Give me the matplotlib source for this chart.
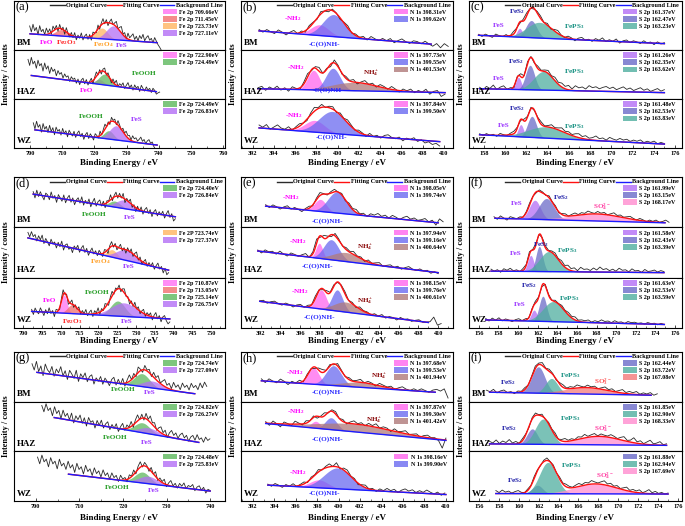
import numpy as np
import matplotlib
matplotlib.use("Agg")
import matplotlib.pyplot as plt
from matplotlib.patches import Patch

plt.rcParams["font.family"] = ["Liberation Serif", "DejaVu Serif"]
plt.rcParams["font.weight"] = "bold"
plt.rcParams["mathtext.default"] = "regular"

# ---------------- data (energies in eV, intensities normalised per sub-plot) ----------------
# each panel: rows BM, HAZ, WZ
# span = range of the measured curve, bg = (x0, x1, y0, y1) of the linear background
# residuals of the measured curve around the fit, in 1/100

a_span = [(702.0, 741.5), (701.5, 741.0), (701.0, 740.0)]
a_bg = [(702.1, 740.2, 0.33, 0.15), (702.5, 740.0, 0.48, 0.15), (701.5, 739.5, 0.37, 0.06)]
a_centers = [[709.66, 711.45, 723.73, 727.11], [722.90, 724.49], [724.49, 726.83]]
a_heights = [[0.05, 0.13, 0.22, 0.28], [0.10, 0.22], [0.17, 0.29]]
a_widths = [[3.0, 4.0, 4.0, 5.0], [3.0, 4.0], [3.5, 5.0]]
a_species = [["FeO", "Fe2O3", "Fe3O4", "FeS"], ["FeO", "FeOOH"], ["FeOOH", "FeS"]]
a_res_bm = [16, 4, 20, 7, 14, -1, 18, 6, 11, 0, 13, 3, 9, -4, 10, 1, 7, -6, 8, -2, 5, -7, 9, 0, -5, 6, -3, 8, -6, 4,
            -2, 9, -5, 3, 7, -4, 5, -8, 6, 1, -3, 8, -5, 4, 10, -2, 6, -6, 3, 9, -1, 5, 11, 0, 7, 13, 2, 8, -2, 12,
            4, 9, 14, 3, 10, 1, 12, 6, 15, 2, 9, 13, 4, 8, -1, 10, 3, -4, -9, -15]
a_res_haz = [32, 20, 37, 24, 30, 16, 33, 22, 27, 12, 29, 17, 24, 9, 22, 14, 19, 6, 17, 10, 14, 3, 12, 6, 9, -2, 8, 3,
             6, -4, 5, -6, 4, 8, -3, 6, -5, 2, 7, -7, 3, 9, -2, 5, -6, 4, 8, -3, 6, 1, -5, 7, 2, 10, -1, 6, 3, 9, -2,
             5, 11, 1, 7, -3, 8, 2, 6, -4, 9, 3, -2, 7, 1, 5, -3, 6, 2, -5, -2, 0]
a_res_wz = [14, 2, 18, 6, 12, -3, 15, 4, 10, -2, 13, 1, 9, -5, 11, 3, 7, -4, 10, 0, 6, -6, 8, 2, -3, 7, -5, 4, 9, -2,
            5, -7, 3, 8, -4, 6, 1, -6, 7, 3, -3, 9, -2, 5, 10, -1, 4, -5, 8, 2, 6, -3, 9, 4, -1, 7, 2, 10, 5, 8,
            1, 11, 6, 9, 3, 7, 12, 4, 8, 0, 6, 9, 2, 5, -4, -9, -16, -22]

b_span = [(392.6, 410.4), (392.5, 410.1), (392.6, 409.6)]
b_bg = [(392.6, 408.8, 0.39, 0.12), (392.5, 410.1, 0.21, 0.13), (392.6, 409.6, 0.41, 0.13)]
b_centers = [[398.31, 399.62], [397.73, 399.55, 401.53], [397.84, 399.50]]
b_heights = [[0.22, 0.45], [0.40, 0.45, 0.17], [0.24, 0.45]]
b_widths = [[2.0, 2.4], [1.3, 1.6, 5.0], [2.2, 3.0]]
b_species = [["NH2", "CONH"], ["NH2", "CONH", "NH4"], ["NH2", "CONH"]]
b_res_bm = [3, -2, 4, 0, -3, 5, 1, -4, 2, 6, -1, 3, -3, 4, 2, -2, 5, 0, -4, 3, 1, -3, 2, 5, -1,
            3, 0, 4, -2, 6, 2, -1, 4, 0, 5, -3, 2, 6, 1, -2, 4, 3, -1, 5, 0, -4, 2, -6, 3, -2]
b_res_haz = [2, 5, -3, 4, 0, 6, -2, 3, -4, 5, 1, -3, 4, 7, -2, 3, 8, -1, 2, -5, 6, 3, -2, 4, 1,
             5, -3, 2, 6, 0, 4, -2, 5, 3, -1, 6, 2, -3, 4, 1, 5, -2, 3, 0, 6, -4, 2, 4, -8, -3]
b_res_wz = [6, 2, 8, -1, 4, 9, 3, 1, 6, -2, 3, 5, 0, -3, 4, 8, 2, 6, -1, 3, 5, -2, 4, 1, 6,
            3, -1, 4, 2, -3, 5, 0, 3, -2, 4, 6, 1, -1, 3, -4, 2, 0, 4, -3, 1, -5, -2, -7, -4, -9]

c_span = [(157.5, 175.0), (157.6, 175.0), (157.6, 175.0)]
c_bg = [(157.5, 175.0, 0.30, 0.13), (157.6, 175.0, 0.21, 0.13), (157.6, 175.0, 0.27, 0.08)]
c_centers = [[161.37, 162.47, 163.23], [161.26, 162.35, 163.62], [161.48, 162.53, 163.83]]
c_heights = [[0.18, 0.35, 0.32], [0.25, 0.50, 0.38], [0.25, 0.43, 0.23]]
c_widths = [[0.6, 1.2, 2.8], [0.6, 1.0, 2.2], [0.6, 1.0, 4.0]]
c_species = [["FeS", "FeS2", "FePS3"], ["FeS", "FeS2", "FePS3"], ["FeS", "FeS2", "FePS3"]]
c_res_bm = [2, -2, 3, 0, -3, 4, 1, -1, 3, -2, 5, 2, -3, 4, 6, 1, -2, 3, 5, 0, 4, -2, 3, 6, 1, -1, 4, 2,
            -3, 3, 5, 0, 2, -2, 4, 1, 6, -1, 3, 0, 5, -3, 2, 4, -1, 3, 1, -2, 4, 0, 2, -3, 3, -1, 2]
c_res_haz = [3, -2, 5, 1, 8, -1, 4, 7, 0, 3, -3, 2, 6, -1, 4, 2, -2, 5, 1, 3, 6, 2, 7, 4, 8, 5, 9, 3,
             10, 6, 8, 4, 11, 7, 9, 5, 8, 10, 6, 9, 4, 7, 10, 5, 8, 3, 6, 9, 4, 7, 2, 5, 8, 3, 6]
c_res_wz = [2, -1, 3, 0, 2, -2, 4, 1, -1, 3, 5, 2, -2, 4, 1, 3, -1, 2, 5, 1, 3, 6, 2, 4, 7, 3, 5, 2,
            6, 8, 4, 7, 3, 5, 9, 4, 6, 2, 8, 5, 3, 7, 4, 6, 2, 5, 3, 6, 1, 4, 2, 5, 0, 3, 1]

d_span = [(702.7, 740.5), (701.3, 738.7), (702.2, 739.0)]
d_bg = [(702.7, 740.5, 0.66, 0.21), (701.3, 738.7, 0.79, 0.15), (702.2, 739.0, 0.33, 0.18)]
d_centers = [[724.40, 726.84], [723.74, 727.37], [710.87, 713.05, 725.14, 726.75]]
d_heights = [[0.12, 0.17], [0.15, 0.21], [0.36, 0.18, 0.30, 0.27]]
d_widths = [[3.5, 5.0], [3.0, 6.0], [1.8, 3.0, 4.5, 8.0]]
d_species = [["FeOOH", "FeS"], ["Fe3O4", "FeS"], ["FeO", "Fe2O3", "FeOOH", "FeS"]]
d_res_bm = [5, -7, 9, -3, 7, -1, -8, 6, 3, -6, 10, -2, 4, -9, 7, 1, -5, 8, -7, 3, 9, -4, 5, -8, 2, 7, -3, 10, -6, 4,
            -2, 8, -7, 3, 11, -4, 5, 9, -3, 6, -8, 4, 1, 10, -5, 3, 8, -4, 6, -2, 9, -7, 4, 0, 8, -5, 3, -8, 5, -3,
            7, -6, 4, 9, -2, 6, -7, 3, 8, -4, 5, -1, 7, -6, 3, 10, -3, 5, -9, -4]
d_res_haz = [11, 3, 14, 5, 10, -2, 9, 2, 12, -4, 7, 1, -6, 8, 0, 4, -7, 5, -3, 9, -8, 3, 6, -4, 1, -9, 5, 0, 8, -5,
             4, 10, -3, 6, -7, 2, 9, -2, 5, -4, 7, 1, -6, 6, 2, -8, 4, 9, -3, 5, -6, 1, 8, -4, 3, -7, 5, -2, 7, -5,
             4, 10, -3, 6, -6, 2, 8, -4, 5, -1, 7, -5, 3, 9, -2, 4, -8, 2, -10, -5]
d_res_wz = [4, -6, 7, 0, -4, 8, 1, -7, 5, -3, 9, -2, 4, -8, 6, 2, -4, 5, 10, -3, 4, -7, 1, 8, -5, 3, -2, 7, -4, 5,
            0, 9, -3, 4, 8, -5, 6, 1, 10, -4, 5, -2, 8, 2, -6, 4, 9, -3, 5, 0, 7, -5, 4, 8, -2, 3, -7, 4, -3, 9,
            -1, 6, -5, 3, 8, -4, 5, 1, 7, -6, 4, 10, -2, 5, -7, 3, 6, -4, -10, -6]

e_span = [(392.5, 410.5), (391.7, 410.0), (391.9, 410.3)]
e_bg = [(392.5, 410.0, 0.42, 0.09), (391.7, 410.0, 0.53, 0.10), (391.9, 409.0, 0.53, 0.11)]
e_centers = [[398.05, 399.74], [397.94, 399.16, 400.64], [398.15, 399.76, 400.61]]
e_heights = [[0.24, 0.42], [0.30, 0.40, 0.18], [0.38, 0.42, 0.20]]
e_widths = [[1.4, 2.2], [0.8, 1.8, 3.2], [1.2, 1.3, 2.8]]
e_species = [["NH2", "CONH"], ["NH2", "CONH", "NH4"], ["NH2", "CONH", "NH4"]]
e_res_bm = [3, -2, 4, 1, -3, 2, 5, -1, 3, 0, -4, 2, 4, -2, 3, 6, 1, -2, 3, 5, 0, 3, -2, 4, 2,
            6, 1, 4, -1, 5, 3, 7, 2, 5, 0, 6, 3, -1, 4, 7, 2, 5, 1, 3, 6, 0, 4, -5, 8, 3]
e_res_haz = [2, -3, 4, 1, 3, -2, 5, 0, -3, 4, 2, -1, 3, 6, -2, 4, 8, -3, 6, 2, -4, 5, 3, -1, 4,
             2, 6, 1, 3, -2, 4, 0, 3, 5, -1, 2, 4, 0, 3, -2, 2, 5, 1, -1, 3, 0, 2, -3, 1, -2]
e_res_wz = [1, 3, -2, 2, 4, 0, -2, 3, 1, -3, 2, 4, -1, 3, 0, 5, 2, -2, 4, 1, 3, -1, 2, 5, 0,
            3, -2, 4, 1, 2, -1, 3, 0, 4, -2, 2, 1, -3, 3, 0, 2, -2, 1, 3, -1, 0, 2, 12, -3, 1]

f_span = [(157.9, 175.4), (157.6, 174.9), (156.7, 174.9)]
f_bg = [(158.0, 175.0, 0.18, 0.09), (157.6, 174.9, 0.13, 0.10), (156.7, 174.9, 0.16, 0.07)]
f_centers = [[161.99, 163.15, 168.17], [161.58, 162.43, 163.39], [161.63, 162.53, 163.59]]
f_heights = [[0.38, 0.42, 0.14], [0.32, 0.50, 0.40], [0.22, 0.50, 0.40]]
f_widths = [[1.3, 1.8, 6.0], [0.7, 0.8, 2.2], [0.7, 0.9, 2.5]]
f_species = [["FeS", "FeS2", "SO4"], ["FeS", "FeS2", "FePS3"], ["FeS", "FeS2", "FePS3"]]
f_res_bm = [3, -2, 5, 1, -3, 4, 2, 0, 3, -1, 2, 4, 1, -2, 3, 2, -1, 4, 1, 3, -2, 2, 4, 0, 3, 5, 1, 4,
            2, 6, 3, 1, 5, 2, 4, 0, 3, 6, 2, 4, 1, 3, 5, 2, 0, 4, 2, -1, 3, 1, 4, 0, 2, 5, 1]
f_res_haz = [4, 0, 3, -2, 5, 2, 6, 1, 3, -1, 4, 2, 5, 1, 3, 0, 2, 4, 1, 3, 5, 2, 6, 3, 8, 4, 7, 2,
             9, 5, 6, 3, 8, 4, 10, 5, 7, 3, 6, 2, 8, 4, 5, 1, 7, 3, 4, 0, 6, 2, 3, 5, 1, 4, 2]
f_res_wz = [3, -2, 4, 0, 5, -1, 3, 1, -2, 2, 4, 0, 3, -1, 2, 4, 1, -2, 3, 2, 0, 3, 1, 4, 2, 5, 3, 6,
            2, 4, 3, 5, 1, 4, 2, 6, 3, 4, 1, 5, 2, 3, 0, 4, 2, 3, 1, 2, 0, 3, 1, 2, -1, 2, 0]

g_span = [(700.0, 739.3), (702.2, 740.0), (700.4, 740.0)]
g_bg = [(701.1, 736.6, 0.59, 0.16), (705.0, 737.5, 0.68, 0.18), (707.5, 740.0, 0.54, 0.20)]
g_centers = [[724.74, 727.09], [724.82, 726.27], [724.48, 725.83]]
g_heights = [[0.26, 0.14], [0.20, 0.12], [0.22, 0.15]]
g_widths = [[4.0, 5.0], [4.0, 5.0], [4.0, 5.0]]
g_species = [["FeOOH", "FeS"], ["FeOOH", "FeS"], ["FeOOH", "FeS"]]
g_res_bm = [16, 4, 22, 2, 14, -5, 19, 8, 3, 16, -3, 12, 5, 18, 0, 11, -6, 13, 6, -2, 15, -7, 9, 2, 12, -5, 6, 10, -8,
            5, -1, 9, -6, 7, 1, -7, 6, 11, -4, 8, -2, 10, -6, 5, 13, 0, 8, -4, 11, 3, -5, 9, 2, 7, -3, 10, 4, 12, 1,
            8, 14, 5, 11, 2, 16, 7, 13, 4, 18, 10, 15, 6, 20, 12, 17, 9, 23, 14, 26, 18]
g_res_haz = [20, 8, 25, 12, 18, 3, 22, 9, 16, 0, 18, 6, 13, 1, 15, -4, 11, 4, 14, -2, 10, -6, 12, 3, 7, -7, 9, 0, 11,
             -4, 5, 10, -5, 6, -1, 9, -6, 4, 11, -3, 7, 1, 10, -5, 6, 12, -1, 8, -4, 11, 2, 13, 4, 9, -2, 7, 12, 3,
             10, -3, 8, 14, 5, 11, 1, 9, 13, 4, 10, -1, 8, 12, 3, 15, 6, 10, 2, 13, 7, 11]
g_res_wz = [27, 14, 32, 19, 25, 10, 29, 17, 23, 8, 28, 15, 21, 9, 26, 13, 20, 5, 24, 12, 18, 4, 22, 10, 16, 3, 19, 8,
            14, 2, 17, 6, 12, 0, 13, 4, 9, -3, 10, 2, 5, -5, 7, 1, 9, -4, 6, 11, -2, 7, 3, -5, 8, 0, 10, -3, 6, 2,
            9, -4, 5, 11, 1, 7, -2, 8, 3, 10, -1, 6, 4, 9, -3, 5, 8, 0, 6, -5, 3, 1]

h_span = [(392.8, 410.2), (393.2, 410.0), (393.4, 409.9)]
h_bg = [(392.8, 409.0, 0.42, 0.19), (393.2, 410.0, 0.56, 0.22), (393.4, 410.0, 0.32, 0.13)]
h_centers = [[397.68, 399.53, 401.94], [397.87, 399.30, 401.42], [398.16, 399.90]]
h_heights = [[0.33, 0.40, 0.10], [0.14, 0.24, 0.16], [0.16, 0.42]]
h_widths = [[1.2, 1.7, 4.0], [1.0, 1.3, 8.0], [2.0, 3.0]]
h_species = [["NH2", "CONH", "NH4"], ["NH2", "CONH", "NH4"], ["NH2", "CONH"]]
h_res_bm = [4, -3, 5, 1, -2, 6, 2, -4, 3, 0, 5, -2, 3, 1, -3, 4, 6, 0, 3, -2, 5, 2, -1, 4, 1,
            3, 6, 0, 4, 2, -2, 5, 3, 1, 4, -1, 3, 6, 2, 0, 4, 1, 5, 2, -1, 4, 6, 3, 8, -10]
h_res_haz = [3, -4, 5, 0, -6, 4, 1, -3, 6, 2, -2, 5, 0, 3, -4, 2, 6, -1, 3, 5, 0, 4, -2, 3, 6,
             1, 4, -1, 5, 2, 7, 0, 4, 3, -2, 5, 1, 3, 6, 0, 2, 4, -1, 3, 5, 1, 2, -3, -17, 4]
h_res_wz = [2, -2, 4, 1, -3, 3, 0, 5, -1, 2, 4, -2, 3, 1, 5, -1, 3, 6, 0, 8, -2, 4, 6, 1, 3,
            -3, 2, 5, 0, 3, -2, 4, 1, 6, 2, 5, -1, 4, 7, 3, 6, 1, 5, 2, 7, 3, 0, 4, -2, 3]

i_span = [(157.4, 174.0), (157.7, 174.9), (157.7, 175.0)]
i_bg = [(157.7, 173.4, 0.19, 0.13), (157.7, 174.9, 0.15, 0.12), (157.7, 175.0, 0.15, 0.14)]
i_centers = [[162.44, 163.72, 167.08], [161.85, 162.90, 168.33], [161.88, 162.94, 167.69]]
i_heights = [[0.53, 0.30, 0.13], [0.31, 0.51, 0.17], [0.17, 0.63, 0.20]]
i_widths = [[1.5, 1.4, 5.0], [1.2, 1.8, 5.0], [1.2, 2.0, 5.0]]
i_species = [["FeS2", "FePS3", "SO3"], ["FeS2", "FePS3", "SO4"], ["FeS2", "FePS3", "SO4"]]
i_res_bm = [4, 1, 6, -1, 3, 5, 0, 2, -2, 3, 1, 4, -1, 2, 5, 3, 6, 1, 4, 2, -2, 3, 5, 1, 4,
            2, 6, 3, 1, 5, 2, 4, 0, 3, 6, 2, 5, 1, 4, 7, 2, 5, 3, 6, 1, 4, 2, 5, 0, 3]
i_res_haz = [5, 2, 8, 1, 6, 3, 9, 2, 5, 0, 4, 2, -2, 3, 5, 1, 4, -1, 3, 2, 5, 0, 3, 6, 2, 4, 1, 5,
             3, 7, 2, 4, 6, 1, 5, 3, 2, 6, 4, 1, 5, 8, 2, 4, 10, 3, 6, 1, 5, 9, 2, 4, 7, 1, 3]
i_res_wz = [6, 2, 7, 3, 5, 1, 4, 6, 2, 0, 3, 1, 4, 2, -1, 3, 5, 1, 3, 0, 4, 2, 5, 3, 1, 4, 6, 2,
            5, 3, 7, 4, 2, 5, 8, 3, 6, 2, 5, 1, 4, 7, 2, 5, 3, 6, 1, 4, 8, 2, 5, 1, 3, 0, 2]

sub_names = ["BM", "HAZ", "WZ"]
panel_letters = ["a", "b", "c", "d", "e", "f", "g", "h", "i"]
line_prefix = ["Fe 2p", "N 1s", "S 2p"]

# ---------------- styles ----------------
FILL = {"FeO": "#ff70f3", "Fe2O3": "#f26e6e", "Fe3O4": "#ffb560", "FeS": "#b36ef5", "FeOOH": "#5db85d",
        "NH2": "#ff66ee", "CONH": "#6a6af0", "NH4": "#b07a7a",
        "FeS2": "#6b6bc8", "FePS3": "#4fae9f", "SO4": "#ff8ccf", "SO3": "#f47a7a"}
TXT = {"FeO": "#ff00ff", "Fe2O3": "#ff1a1a", "Fe3O4": "#ff9a1a", "FeS": "#9a33ff", "FeOOH": "#1f9a1f",
       "NH2": "#ff00ff", "CONH": "#2a2aff", "NH4": "#8b0a0a",
       "FeS2": "#1c1ca6", "FePS3": "#138f80", "SO4": "#ff3aa0", "SO3": "#ff5050"}

# peak name tags: (sub-plot, text, species, x, y)
tags = {
    "a": [(0, "FeO", "FeO", 707, 0.15), (0, "Fe$_2$O$_3$", "Fe2O3", 713, 0.15), (0, "Fe$_3$O$_4$", "Fe3O4", 724, 0.12),
          (0, "FeS", "FeS", 729.5, 0.09), (1, "FeOOH", "FeOOH", 736.5, 0.53), (1, "FeO", "FeO", 719, 0.18),
          (2, "FeOOH", "FeOOH", 719, 0.65), (2, "FeS", "FeS", 733, 0.59)],
    "b": [(0, "-NH$_2$", "NH2", 395.8, 0.65), (0, "-C(O)NH-", "CONH", 398.8, 0.13),
          (1, "-NH$_2$", "NH2", 396.1, 0.65), (1, "NH$_4^+$", "NH4", 403.2, 0.53), (1, "-C(O)NH-", "CONH", 399.1, 0.18),
          (2, "-NH$_2$", "NH2", 395.9, 0.67), (2, "-C(O)NH-", "CONH", 399.4, 0.23)],
    "c": [(0, "FeS", "FeS", 159.4, 0.50), (0, "FeS$_2$", "FeS2", 161.1, 0.79), (0, "FePS$_3$", "FePS3", 166.5, 0.47),
          (1, "FeS$_2$", "FeS2", 161.0, 0.76), (1, "FeS", "FeS", 159.4, 0.41), (1, "FePS$_3$", "FePS3", 166.5, 0.57),
          (2, "FeS$_2$", "FeS2", 161.1, 0.81), (2, "FeS", "FeS", 159.9, 0.45), (2, "FePS$_3$", "FePS3", 166.5, 0.44)],
    "d": [(0, "FeOOH", "FeOOH", 719, 0.26), (0, "FeS", "FeS", 728.3, 0.20), (1, "Fe$_3$O$_4$", "Fe3O4", 720.5, 0.33),
          (1, "FeS", "FeS", 728, 0.22), (2, "FeO", "FeO", 707, 0.55), (2, "Fe$_2$O$_3$", "Fe2O3", 712.9, 0.12),
          (2, "FeOOH", "FeOOH", 719.6, 0.71), (2, "FeS", "FeS", 727.6, 0.12)],
    "e": [(0, "-NH$_2$", "NH2", 395.1, 0.60), (0, "-C(O)NH-", "CONH", 398.8, 0.12),
          (1, "-NH$_2$", "NH2", 395.8, 0.71), (1, "NH$_4^+$", "NH4", 402.6, 0.62), (1, "-C(O)NH-", "CONH", 397.8, 0.22),
          (2, "-NH$_2$", "NH2", 396.0, 0.72), (2, "NH$_4^+$", "NH4", 402.6, 0.55), (2, "-C(O)NH-", "CONH", 398.0, 0.21)],
    "f": [(0, "FeS", "FeS", 160.2, 0.48), (0, "FeS$_2$", "FeS2", 164.6, 0.60), (0, "SO$_4^{2-}$", "SO4", 168.7, 0.42),
          (1, "FeS", "FeS", 160.1, 0.48), (1, "FeS$_2$", "FeS2", 162.6, 0.66), (1, "FePS$_3$", "FePS3", 165.2, 0.54),
          (2, "FeS$_2$", "FeS2", 161.1, 0.84), (2, "FeS", "FeS", 160.2, 0.46), (2, "FePS$_3$", "FePS3", 165.2, 0.58)],
    "g": [(0, "FeOOH", "FeOOH", 720.6, 0.24), (0, "FeS", "FeS", 726.5, 0.18), (1, "FeOOH", "FeOOH", 718.7, 0.27),
          (1, "FeS", "FeS", 725.8, 0.18), (2, "FeOOH", "FeOOH", 718.7, 0.27), (2, "FeS", "FeS", 727, 0.22)],
    "h": [(0, "-NH$_2$", "NH2", 395.9, 0.59), (0, "NH$_4^+$", "NH4", 403.8, 0.52), (0, "-C(O)NH-", "CONH", 399, 0.20),
          (1, "-NH$_2$", "NH2", 396.0, 0.80), (1, "NH$_4^+$", "NH4", 403.3, 0.63), (1, "-C(O)NH-", "CONH", 399, 0.25),
          (2, "-NH$_2$", "NH2", 396.2, 0.57), (2, "-C(O)NH-", "CONH", 398.7, 0.15)],
    "i": [(0, "FeS$_2$", "FeS2", 159.5, 0.39), (0, "FePS$_3$", "FePS3", 165.5, 0.52), (0, "SO$_3^{2-}$", "SO3", 168.7, 0.40),
          (1, "FeS$_2$", "FeS2", 159.6, 0.46), (1, "FePS$_3$", "FePS3", 165.5, 0.66), (1, "SO$_4^{2-}$", "SO4", 168.7, 0.46),
          (2, "FeS$_2$", "FeS2", 159.6, 0.42), (2, "FePS$_3$", "FePS3", 165.3, 0.72), (2, "SO$_4^{2-}$", "SO4", 168.7, 0.52)],
}

panels = {
    "a": (a_span, a_bg, a_centers, a_heights, a_widths, a_species, [a_res_bm, a_res_haz, a_res_wz]),
    "b": (b_span, b_bg, b_centers, b_heights, b_widths, b_species, [b_res_bm, b_res_haz, b_res_wz]),
    "c": (c_span, c_bg, c_centers, c_heights, c_widths, c_species, [c_res_bm, c_res_haz, c_res_wz]),
    "d": (d_span, d_bg, d_centers, d_heights, d_widths, d_species, [d_res_bm, d_res_haz, d_res_wz]),
    "e": (e_span, e_bg, e_centers, e_heights, e_widths, e_species, [e_res_bm, e_res_haz, e_res_wz]),
    "f": (f_span, f_bg, f_centers, f_heights, f_widths, f_species, [f_res_bm, f_res_haz, f_res_wz]),
    "g": (g_span, g_bg, g_centers, g_heights, g_widths, g_species, [g_res_bm, g_res_haz, g_res_wz]),
    "h": (h_span, h_bg, h_centers, h_heights, h_widths, h_species, [h_res_bm, h_res_haz, h_res_wz]),
    "i": (i_span, i_bg, i_centers, i_heights, i_widths, i_species, [i_res_bm, i_res_haz, i_res_wz]),
}

# axis limits and ticks per panel
xlims = {"a": (697.3, 760.6), "b": (390.9, 410.85), "c": (156.6, 176.66),
         "d": (697.6, 753.7), "e": (390.0, 411.5), "f": (155.4, 176.7),
         "g": (695.95, 743.4), "h": (390.9, 410.66), "i": (155.7, 176.4)}
xticks = {"a": np.arange(700, 761, 10), "b": np.arange(392, 411, 2), "c": np.arange(158, 177, 2),
          "d": np.arange(700, 751, 5), "e": np.arange(392, 411, 2), "f": np.arange(156, 177, 2),
          "g": np.arange(700, 741, 10), "h": np.arange(392, 411, 2), "i": np.arange(156, 177, 2)}


def gauss(x, c, h, w):
    return h * np.exp(-4 * np.log(2) * (x - c) ** 2 / w ** 2)


W, H = 685, 526
fig = plt.figure(figsize=(W / 100, H / 100), dpi=100)

cols = [(14, 225), (241, 453), (469, 682)]
rows = [(1, 148), (177, 328), (352, 501)]
xlabel_y = [163, 341, 518]

for k, key in enumerate(panel_letters):
    r, cidx = divmod(k, 3)
    left, right = cols[cidx]
    top, bottom = rows[r]
    span, bg, centers, heights, widths, species, res = panels[key]
    sub_h = (bottom - top) / 3
    axes = []
    for s in range(3):
        y_top = top + s * sub_h
        ax = fig.add_axes([left / W, 1 - (y_top + sub_h) / H, (right - left) / W, sub_h / H])
        axes.append(ax)
        ax.set_xlim(*xlims[key])
        ax.set_ylim(0, 1)
        ax.set_yticks([])
        for sp in ax.spines.values():
            sp.set_linewidth(0.8)
        if s < 2:
            ax.set_xticks([])
        else:
            ax.set_xticks(xticks[key])
            step = xticks[key][1] - xticks[key][0]
            ax.set_xticks(np.arange(xticks[key][0] - step / 2, xlims[key][1], step / 2), minor=True)
            ax.tick_params(axis="x", which="both", direction="in", labelsize=4.5, pad=2)
            ax.tick_params(axis="x", which="major", length=2.2, width=0.5)
            ax.tick_params(axis="x", which="minor", length=1.2, width=0.4)

        bx0, bx1, b0, b1 = bg[s]
        slope = (b1 - b0) / (bx1 - bx0)
        xf = np.linspace(bx0, bx1, 600)
        base = b0 + slope * (xf - bx0)
        total = base.copy()
        handles = []
        for c, hgt, wid, spc in zip(centers[s], heights[s], widths[s], species[s]):
            pk = gauss(xf, c, hgt, wid)
            ax.fill_between(xf, base, base + pk, color=FILL[spc], alpha=0.75, lw=0, zorder=2)
            total = total + pk
            prefix = line_prefix[cidx]
            if key == "d" and s == 1 and spc == "Fe3O4":
                prefix = "Fe 2P"
            handles.append(Patch(facecolor=FILL[spc], alpha=0.8, edgecolor="none", label=f"{prefix} {c:.2f}eV"))

        xo = np.linspace(span[s][0], span[s][1], len(res[s]))
        yo = b0 + slope * (xo - bx0) + np.array(res[s]) / 100.0
        for c, hgt, wid in zip(centers[s], heights[s], widths[s]):
            yo = yo + gauss(xo, c, hgt, wid)
        ax.plot(xo, yo, color="#2a2a2a", lw=0.6, zorder=3)
        ax.plot(xf, total, color="#ff1010", lw=1.0, zorder=4)
        ax.plot(xf, base, color="#1a1aff", lw=1.0, zorder=5)

        leg_top = 0.86 if s == 0 else 0.97
        ax.legend(handles=handles, loc="upper right", bbox_to_anchor=(0.975, leg_top), fontsize=4.3,
                  frameon=True, fancybox=False, framealpha=1, edgecolor="none", borderpad=0.15,
                  labelspacing=0.2, handlelength=2.3, handleheight=1.1, handletextpad=0.4, borderaxespad=0)

        ax.text(0.012, 0.15, sub_names[s], transform=ax.transAxes, fontsize=6.5, va="center", ha="left", zorder=6)

    for s, txt, spc, x, y in tags[key]:
        axes[s].text(x, y, txt, color=TXT[spc], fontsize=5.2, ha="center", va="center", zorder=6)

    # curve legend across top of first sub-plot
    ax0 = axes[0]
    for x0, col, txt in [(0.17, "#2a2a2a", "Original Curve"), (0.44, "#ff1010", "Fitting Curve"),
                         (0.69, "#1a1aff", "Background Line")]:
        ax0.plot([x0, x0 + 0.07], [0.91, 0.91], transform=ax0.transAxes, color=col, lw=1.0, zorder=7)
        ax0.text(x0 + 0.077, 0.91, txt, transform=ax0.transAxes, fontsize=4.5, va="center", ha="left", zorder=7)
    ax0.text(0.008, 0.88, f"({key})", transform=ax0.transAxes, fontsize=9, fontweight="normal",
             va="center", ha="left", zorder=7)

    fig.text((left - 8) / W, 1 - (top + bottom) / 2 / H, "Intensity / counts", rotation=90,
             fontsize=6, ha="center", va="center")
    fig.text((left + right) / 2 / W, 1 - xlabel_y[r] / H, "Binding Energy / eV", fontsize=6.5,
             ha="center", va="center")

fig.savefig("out.png", dpi=100)
